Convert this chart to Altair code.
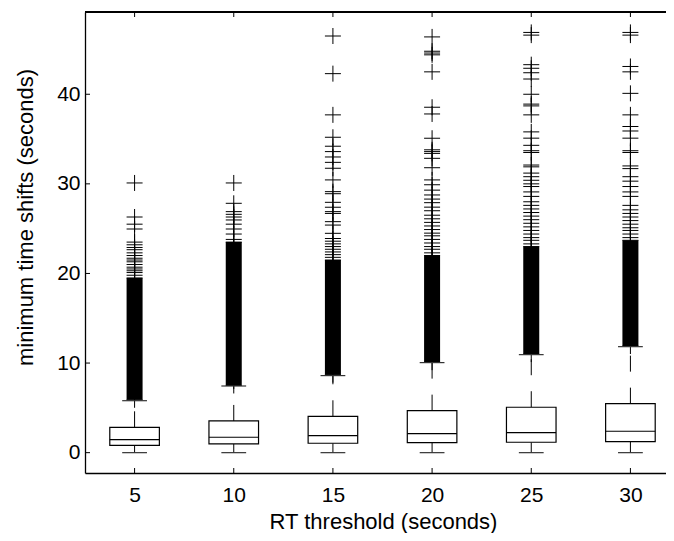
import altair as alt
import pandas as pd

# ---------------- data ----------------
thresholds = [5, 10, 15, 20, 25, 30]
q1 = [0.82, 0.97, 1.05, 1.12, 1.16, 1.23]
median = [1.45, 1.72, 1.90, 2.12, 2.23, 2.39]
q3 = [2.83, 3.54, 4.06, 4.69, 5.07, 5.47]
whisker_lo = [0.0, 0.0, 0.0, 0.0, 0.0, 0.0]
whisker_hi = [5.8, 7.44, 8.6, 10.05, 10.94, 11.83]
# ranges where the outlier crosses merge into a solid black column
dense_lo = [5.9, 7.5, 8.7, 10.1, 11.0, 11.9]
dense_hi = [19.5, 23.5, 21.5, 22.0, 23.0, 23.7]

out_5 = [5.9, 19.5, 19.8, 20.1, 20.3, 20.5, 20.7, 21.0, 21.3, 21.5, 21.7, 22.0,
         22.3, 22.65, 22.9, 23.2, 23.5, 24.96, 25.5, 26.3, 30.1]
out_10 = [7.5, 23.5, 23.8, 24.4, 24.96, 25.5, 25.97, 26.3, 26.6, 26.9, 27.83, 30.1]
out_15 = [8.7, 21.5, 21.8, 22.1, 22.4, 22.7, 23.0, 23.3, 23.6, 23.9, 24.48, 25.4,
          25.78, 26.7, 26.9, 27.39, 27.94, 28.9, 29.13, 30.44, 31.74, 32.4, 33.0,
          33.6, 34.2, 35.2, 37.7, 42.3, 46.5]
out_20 = [10.1, 22.0, 22.3, 22.7, 23.0, 23.4, 23.8, 24.2, 24.5, 24.9, 25.3, 25.7,
          26.1, 26.5, 27.0, 27.4, 27.9, 28.3, 28.76, 29.3, 29.9, 30.44, 31.8, 32.85,
          33.4, 33.6, 33.8, 35.09, 37.8, 38.55, 42.5, 44.4, 44.6, 44.8, 46.4]
out_25 = [11.0, 23.0, 23.3, 23.7, 24.0, 24.4, 24.8, 25.2, 25.6, 26.0, 26.4, 26.8,
          27.2, 27.6, 28.0, 28.6, 29.1, 29.7, 30.0, 30.4, 30.8, 31.2, 31.9, 32.1,
          33.5, 33.7, 34.3, 35.1, 35.8, 37.7, 38.7, 38.9, 40.0, 41.7, 42.4, 42.9,
          43.3, 46.6, 46.9]
out_30 = [11.9, 23.7, 24.0, 24.4, 24.8, 25.1, 25.5, 25.9, 26.3, 26.7, 27.1, 27.6,
          28.6, 29.1, 29.7, 30.3, 30.8, 31.7, 32.0, 33.5, 33.7, 35.1, 35.9, 36.4,
          37.7, 40.1, 42.5, 43.1, 46.6, 46.9]

x_ticks = [5, 10, 15, 20, 25, 30]
y_ticks = [0, 10, 20, 30, 40]

# ---------------- tables ----------------
boxes = pd.DataFrame(dict(thr=thresholds, q1=q1, med=median, q3=q3,
                          wlo=whisker_lo, whi=whisker_hi,
                          dlo=dense_lo, dhi=dense_hi))
outliers = pd.DataFrame(
    [(t, v) for t, vals in zip(thresholds, [out_5, out_10, out_15, out_20, out_25, out_30])
     for v in vals],
    columns=["thr", "val"])
xt = pd.DataFrame({"thr": x_ticks})
yt = pd.DataFrame({"val": y_ticks})

# ---------------- layout / styles ----------------
W, H = 581, 461
UNIT = 595 / 30.0            # pixels per threshold unit (axis continues past the page)
FONT = "Liberation Sans"
xs = alt.Scale(domain=[2.5, 2.5 + W / UNIT], nice=False, zero=False)
ys = alt.Scale(domain=[-2.27, 49.18], nice=False, zero=False)
BOX_HALF = 1.25
CAP_HALF = 0.625
DENSE_HALF = 8 / UNIT

x_axis = alt.Axis(values=x_ticks, format="d", title="RT threshold (seconds)",
                  ticks=False, tickSize=0, domain=True, domainColor="black",
                  domainWidth=1.3, grid=False,
                  labelPadding=11, labelFontSize=21, titleFontSize=22,
                  titleX=298, titleAlign="center",
                  titleY=55, titleBaseline="alphabetic")
y_axis = alt.Axis(values=y_ticks, format="d", title="minimum time shifts (seconds)",
                  ticks=False, tickSize=0, domain=True, domainColor="black",
                  domainWidth=1.3, grid=False,
                  labelPadding=5, labelFontSize=21, titleFontSize=22,
                  titleAngle=270, titleX=-53, titleY=205, titleAlign="center",
                  titleBaseline="alphabetic")

base = alt.Chart(boxes)

dense = base.transform_calculate(
    xl=f"datum.thr - {DENSE_HALF}", xr=f"datum.thr + {DENSE_HALF}"
).mark_rect(color="black").encode(
    x=alt.X("xl:Q", scale=xs, axis=x_axis), x2="xr:Q",
    y=alt.Y("dlo:Q", scale=ys, axis=y_axis), y2="dhi:Q")

pts = alt.Chart(outliers).mark_point(
    shape="M-1,0H1M0,-1V1", size=256, filled=False, color="black",
    strokeWidth=1, opacity=1
).encode(x=alt.X("thr:Q", scale=xs), y=alt.Y("val:Q", scale=ys))

wh_up = base.mark_rule(color="black", strokeWidth=1, strokeDash=[16, 16]).encode(
    x=alt.X("thr:Q", scale=xs), y=alt.Y("q3:Q", scale=ys), y2="whi:Q")
wh_lo = base.mark_rule(color="black", strokeWidth=1, strokeDash=[16, 16]).encode(
    x=alt.X("thr:Q", scale=xs), y=alt.Y("q1:Q", scale=ys), y2="wlo:Q")

caps = base.transform_calculate(
    cl=f"datum.thr - {CAP_HALF}", cr=f"datum.thr + {CAP_HALF}")
cap_hi = caps.mark_rule(color="#333333", strokeWidth=1.2).encode(
    x=alt.X("cl:Q", scale=xs), x2="cr:Q", y=alt.Y("whi:Q", scale=ys))
cap_lo = caps.mark_rule(color="#333333", strokeWidth=1.2).encode(
    x=alt.X("cl:Q", scale=xs), x2="cr:Q", y=alt.Y("wlo:Q", scale=ys))

bx = base.transform_calculate(
    xl=f"datum.thr - {BOX_HALF}", xr=f"datum.thr + {BOX_HALF}")
box = bx.mark_rect(fill="white", stroke="black", strokeWidth=1.2).encode(
    x=alt.X("xl:Q", scale=xs), x2="xr:Q",
    y=alt.Y("q1:Q", scale=ys), y2="q3:Q")
med = bx.mark_rule(color="black", strokeWidth=1.2).encode(
    x=alt.X("xl:Q", scale=xs), x2="xr:Q", y=alt.Y("med:Q", scale=ys))

tick_b = alt.Chart(xt).mark_rule(color="black").encode(
    x=alt.X("thr:Q", scale=xs), y=alt.value(H), y2=alt.value(H - 5))
tick_t = alt.Chart(xt).mark_rule(color="black").encode(
    x=alt.X("thr:Q", scale=xs), y=alt.value(0), y2=alt.value(5))
tick_l = alt.Chart(yt).mark_rule(color="black").encode(
    y=alt.Y("val:Q", scale=ys), x=alt.value(0), x2=alt.value(5))
top_frame = alt.Chart(xt).mark_rule(color="black", strokeWidth=1.3).encode(
    x=alt.value(0), x2=alt.value(W), y=alt.value(0))

chart = alt.layer(
    dense, pts, wh_up, wh_lo, cap_hi, cap_lo, box, med, tick_b, tick_t, tick_l, top_frame
).properties(
    width=W, height=H,
    background="white",
    autosize=alt.AutoSizeParams(type="none"),
    padding={"left": 77, "top": 4, "right": 0, "bottom": 60},
).configure_view(
    strokeWidth=0
).configure_axis(
    labelFont=FONT, titleFont=FONT, labelColor="black", titleColor="black",
    titleFontWeight="normal"
)

chart.save("out.html", embed_options={"renderer": "svg", "actions": False})
